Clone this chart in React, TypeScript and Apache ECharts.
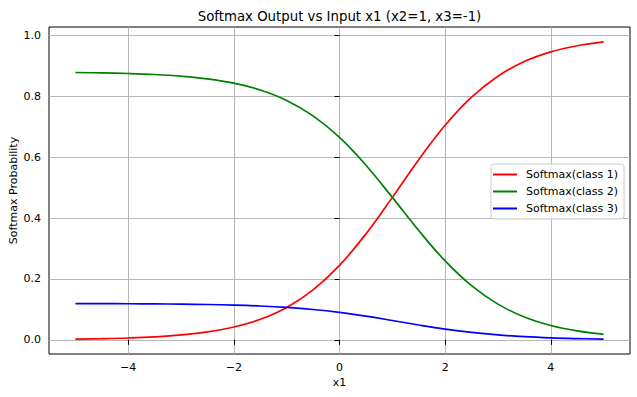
import React, { useEffect, useRef } from "react";
import * as echarts from "echarts";

const xValues = [-5, -4.5, -4, -3.5, -3, -2.5, -2, -1.5, -1, -0.5, 0, 0.5, 1, 1.5, 2, 2.5, 3, 3.5, 4, 4.5, 5];
const class1 = [0.0022, 0.0036, 0.0059, 0.0097, 0.0159, 0.0259, 0.042, 0.0674, 0.1065, 0.1643, 0.2447, 0.3482, 0.4683, 0.5922, 0.7054, 0.7979, 0.8668, 0.9148, 0.9465, 0.9669, 0.9796];
const class2 = [0.8789, 0.8776, 0.8756, 0.8723, 0.8668, 0.858, 0.8438, 0.8214, 0.787, 0.7361, 0.6652, 0.5741, 0.4683, 0.3592, 0.2595, 0.178, 0.1173, 0.0751, 0.0471, 0.0292, 0.0179];
const class3 = [0.1189, 0.1188, 0.1185, 0.1181, 0.1173, 0.1161, 0.1142, 0.1112, 0.1065, 0.0996, 0.09, 0.0777, 0.0634, 0.0486, 0.0351, 0.0241, 0.0159, 0.0102, 0.0064, 0.004, 0.0024];
const seriesNames = ["Softmax(class 1)", "Softmax(class 2)", "Softmax(class 3)"];
const seriesColors = ["#ff0000", "#008000", "#0000ff"];
const xTicks = [-4, -2, 0, 2, 4];
const yTicks = [0, 0.2, 0.4, 0.6, 0.8, 1.0];

const FONT = "DejaVu Sans";

export default function App() {
  const ref = useRef<HTMLDivElement>(null);
  useEffect(() => {
    document.body.style.margin = "0";
    const chart = echarts.init(ref.current!, null, { renderer: "svg" });
    const allSeries = [class1, class2, class3];
    chart.setOption({
      animation: false,
      backgroundColor: "#ffffff",
      textStyle: { fontFamily: FONT },
      grid: {
        left: 49,
        right: 7,
        top: 27,
        bottom: 43,
        outerBoundsMode: "none",
        containLabel: false,
        show: true,
        borderColor: "#000",
        borderWidth: 1,
        backgroundColor: "transparent",
      },
      graphic: [
        {
          type: "text",
          x: 339.5,
          y: 16,
          style: {
            text: "Softmax Output vs Input x1 (x2=1, x3=-1)",
            fontFamily: FONT,
            fontSize: 13.3,
            fill: "#000",
            textAlign: "center",
            textVerticalAlign: "middle",
          },
        },
      ],
      legend: {
        orient: "vertical",
        left: 491,
        top: 164,
        padding: [4, 6, 4, 2],
        icon: "rect",
        itemWidth: 24,
        itemHeight: 2,
        itemGap: 4,
        backgroundColor: "rgba(255,255,255,0.8)",
        borderColor: "#cccccc",
        borderWidth: 1,
        borderRadius: 3,
        textStyle: { fontFamily: FONT, fontSize: 11, color: "#000", padding: [0, 0, 0, 4], lineHeight: 13 },
        data: seriesNames,
      },
      xAxis: {
        type: "value",
        min: -5.5,
        max: 5.5,
        name: "x1",
        nameLocation: "middle",
        nameGap: 23,
        nameMoveOverlap: false,
        nameTextStyle: { fontFamily: FONT, fontSize: 11, color: "#000", verticalAlign: "top" },
        axisLine: { show: false },
        axisTick: { show: true, customValues: xTicks, length: 5, lineStyle: { color: "#000", width: 1 } },
        axisLabel: {
          customValues: xTicks,
          fontFamily: FONT,
          fontSize: 11,
          color: "#000",
          margin: 8,
          formatter: (v: number) => String(v).replace("-", "\u2212"),
        },
        splitLine: { show: true, lineStyle: { color: "#b0b0b0", width: 0.9 } },
      },
      yAxis: {
        type: "value",
        min: -0.0467,
        max: 1.0285,
        name: "Softmax Probability",
        nameLocation: "middle",
        nameGap: 30,
        nameMoveOverlap: false,
        nameTextStyle: { fontFamily: FONT, fontSize: 11, color: "#000" },
        axisLine: { show: false },
        axisTick: { show: true, customValues: yTicks, length: 5, lineStyle: { color: "#000", width: 1 } },
        axisLabel: {
          customValues: yTicks,
          fontFamily: FONT,
          fontSize: 11,
          color: "#000",
          margin: 8,
          formatter: (v: number) => v.toFixed(1),
        },
        splitLine: { show: true, lineStyle: { color: "#b0b0b0", width: 0.9 } },
      },
      series: allSeries.map((vals, i) => ({
        name: seriesNames[i],
        type: "line",
        data: xValues.map((x, j) => [x, vals[j]]),
        symbol: "none",
        smooth: 0.4,
        lineStyle: { color: seriesColors[i], width: 1.7 },
        itemStyle: { color: seriesColors[i] },
      })),
    });
    return () => chart.dispose();
  }, []);
  return <div ref={ref} style={{ width: 637, height: 397 }} />;
}
